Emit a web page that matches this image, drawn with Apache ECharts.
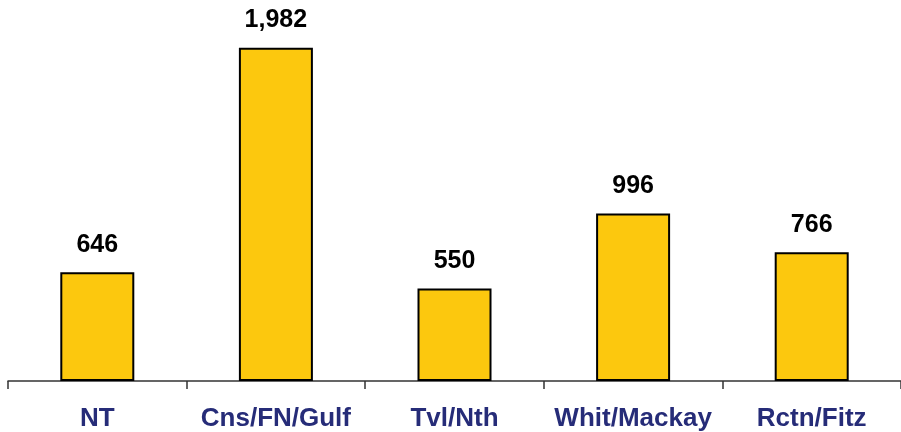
<!DOCTYPE html>
<html>
<head>
<meta charset="utf-8">
<script src="https://cdn.jsdelivr.net/npm/echarts@6/dist/echarts.min.js"></script>
<style>
  html, body { margin: 0; padding: 0; background: #fff; }
  #main { width: 901px; height: 432px; }
</style>
</head>
<body>
<div id="main"></div>
<script>
// regions and their values
const regions = ['NT', 'Cns/FN/Gulf', 'Tvl/Nth', 'Whit/Mackay', 'Rctn/Fitz'];
const values = [646, 1982, 550, 996, 766];

const chart = echarts.init(document.getElementById('main'));
chart.setOption({
  animation: false,
  grid: { left: 8, right: 0, top: 11, bottom: 51 },
  xAxis: {
    type: 'category',
    data: regions,
    axisLine: { lineStyle: { color: '#333', width: 1.5 } },
    axisTick: { show: true, interval: 0, length: 8, lineStyle: { color: '#333', width: 1.5 } },
    axisLabel: {
      interval: 0,
      margin: 25,
      color: '#262C78',
      fontFamily: 'Liberation Sans, Arial',
      fontWeight: 'bold',
      fontSize: 26
    }
  },
  yAxis: {
    type: 'value',
    min: 0,
    max: 2200,
    show: false
  },
  series: [
    {
      type: 'bar',
      data: values,
      barWidth: 74,
      itemStyle: { color: '#FCC80E', borderColor: '#000', borderWidth: 2 },
      label: {
        show: true,
        position: 'top',
        distance: 15,
        color: '#000',
        fontFamily: 'Liberation Sans, Arial',
        fontWeight: 'bold',
        fontSize: 25,
        formatter: p => p.value.toLocaleString('en-US')
      }
    }
  ]
});
</script>
</body>
</html>
